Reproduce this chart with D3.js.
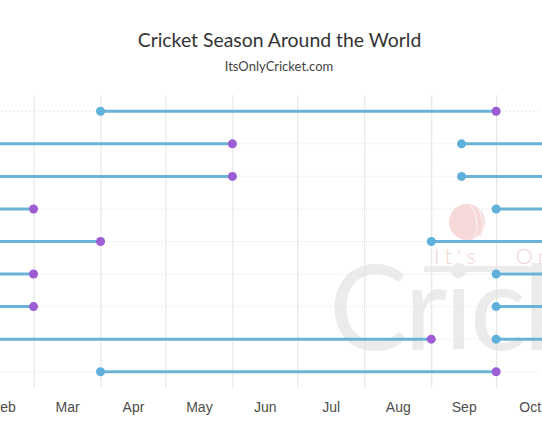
<!DOCTYPE html>
<html lang="en">
<head>
    <meta charset="UTF-8">
    <title>Cricket Season Around the World</title>

    <script src="https://d3js.org/d3.v7.min.js"></script>

    <style>
        body { margin: 0; background: #fff; }
        svg { display: block; font-family: Lato, "Open Sans", sans-serif; }
        .grid line { stroke: #e3e3e3; stroke-width: 1px; }
        .grid .domain { display: none; }
        .row-rule { stroke: #d9d9d9; stroke-width: 1px; stroke-dasharray: 1,3; }
        .season { stroke: #6bb3d6; stroke-width: 3px; fill: none; }
        .x-axis text { fill: #4d4d4d; font-size: 14px; }
        .x-axis .domain { display: none; }
    </style>
</head>
<body>
<div id="chart"></div>
<script>

    // Rows, top to bottom (their names sit left of the visible crop)
    var countries = ["England", "India", "Sri Lanka", "Australia", "Zimbabwe",
                     "New Zealand", "South Africa", "West Indies", "Ireland"];
    // Season start / end as month-day, seasons may wrap over new year
    var seasonStart = ["04-01", "09-15", "09-15", "10-01", "09-01", "10-01", "10-01", "10-01", "04-01"];
    var seasonEnd   = ["10-01", "06-01", "06-01", "03-01", "04-01", "03-01", "03-01", "09-01", "10-01"];
    var monthLabels = ["Jan", "Feb", "Mar", "Apr", "May", "Jun",
                       "Jul", "Aug", "Sep", "Oct", "Nov", "Dec"];

    var year = 2023;
    var parseDay = d3.timeParse("%Y-%m-%d");

    // Plot area (the picture is a crop, so the plot runs past both edges)
    var margin = {top: 95, left: -94},
        width = 789,
        height = 293,
        svgWidth = 542,
        svgHeight = 442;

    var x = d3.scaleTime()
        .domain([new Date(year, 0, 1), new Date(year + 1, 0, 1)])
        .range([margin.left, margin.left + width]);
    var y = d3.scaleBand()
        .domain(countries)
        .range([margin.top, margin.top + height]);

    var svg = d3.select("#chart")
        .append("svg")
        .attr("width", svgWidth)
        .attr("height", svgHeight);

    // watermark behind the chart
    var wm = svg.append("g").attr("class", "watermark");
    wm.append("text")
        .attr("x", 329).attr("y", 350)
        .attr("font-size", 118)
        .attr("letter-spacing", -3)
        .attr("fill", "#ebebeb")
        .text("Cricket");
    wm.append("rect")
        .attr("x", 424).attr("y", 266).attr("width", 130).attr("height", 6)
        .attr("fill", "#ececec");
    wm.append("circle")
        .attr("cx", 467).attr("cy", 222).attr("r", 18)
        .attr("fill", "#f7d9d9");
    wm.append("path")
        .attr("d", "M471,205 Q481,222 474,239 M477,207 Q487,222 480,237")
        .attr("stroke", "#fcecec").attr("stroke-width", 1.5).attr("fill", "none");
    wm.append("text")
        .attr("x", 434).attr("y", 264)
        .attr("font-size", 22).attr("font-weight", 300)
        .attr("letter-spacing", 5)
        .attr("word-spacing", 24)
        .attr("fill", "#f3d3d3")
        .text("It's Only");

    // vertical month grid
    svg.append("g")
        .attr("class", "grid")
        .attr("transform", "translate(0," + (margin.top + height) + ")")
        .call(d3.axisBottom(x)
            .tickValues(d3.timeMonth.range(new Date(year, 0, 1), new Date(year + 1, 0, 2)))
            .tickSize(-height)
            .tickFormat(""));

    // month labels sit in the middle of each month; only those in view
    var midMonths = monthLabels.map(function(m, i) {
        var a = new Date(year, i, 1), b = new Date(year, i + 1, 1);
        return new Date((+a + +b) / 2);
    });
    var shown = midMonths.filter(function(d) { return x(d) > -15 && x(d) < svgWidth - 5; });
    svg.append("g")
        .attr("class", "x-axis")
        .attr("transform", "translate(0," + (margin.top + height) + ")")
        .call(d3.axisBottom(x)
            .tickValues(shown)
            .tickSize(0)
            .tickPadding(14)
            .tickFormat(function(d) { return monthLabels[d.getMonth()]; }));

    // dotted row rules
    svg.append("g").selectAll("line")
        .data(countries)
        .enter().append("line")
        .attr("class", "row-rule")
        .attr("x1", x.range()[0]).attr("x2", x.range()[1])
        .attr("y1", function(d) { return y(d) + y.bandwidth() / 2; })
        .attr("y2", function(d) { return y(d) + y.bandwidth() / 2; });

    var rows = countries.map(function(c, i) {
        return {
            country: c,
            start: parseDay(year + "-" + seasonStart[i]),
            end: parseDay(year + "-" + seasonEnd[i])
        };
    });

    // split seasons that wrap over the new year
    var segments = [];
    rows.forEach(function(r) {
        if (r.start < r.end) {
            segments.push({country: r.country, a: r.start, b: r.end});
        } else {
            segments.push({country: r.country, a: x.domain()[0], b: r.end});
            segments.push({country: r.country, a: r.start, b: x.domain()[1]});
        }
    });

    svg.append("g").selectAll("line")
        .data(segments)
        .enter().append("line")
        .attr("class", "season")
        .attr("x1", function(d) { return x(d.a); })
        .attr("x2", function(d) { return x(d.b); })
        .attr("y1", function(d) { return y(d.country) + y.bandwidth() / 2; })
        .attr("y2", function(d) { return y(d.country) + y.bandwidth() / 2; });

    var dots = svg.append("g");
    dots.selectAll(".start")
        .data(rows)
        .enter().append("circle")
        .attr("class", "start")
        .attr("cx", function(d) { return x(d.start); })
        .attr("cy", function(d) { return y(d.country) + y.bandwidth() / 2; })
        .attr("r", 4.5)
        .attr("fill", "#5fb0da");
    dots.selectAll(".end")
        .data(rows)
        .enter().append("circle")
        .attr("class", "end")
        .attr("cx", function(d) { return x(d.end); })
        .attr("cy", function(d) { return y(d.country) + y.bandwidth() / 2; })
        .attr("r", 4.5)
        .attr("fill", "#9b5cd4");

    // titles
    svg.append("text")
        .attr("x", 279.5).attr("y", 46.5)
        .attr("text-anchor", "middle")
        .attr("font-size", 19.4)
        .attr("fill", "#333")
        .text("Cricket Season Around the World");
    svg.append("text")
        .attr("x", 279).attr("y", 71)
        .attr("text-anchor", "middle")
        .attr("font-size", 13)
        .attr("fill", "#444")
        .text("ItsOnlyCricket.com");

</script>

</body>
</html>
